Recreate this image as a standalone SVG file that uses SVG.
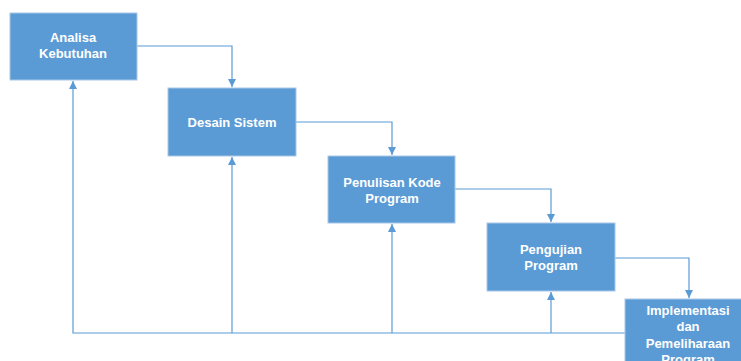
<svg xmlns="http://www.w3.org/2000/svg" width="741" height="361" viewBox="0 0 741 361">
<style>
.box{fill:#5B9BD5;stroke:#A9C8E8;stroke-width:1}
.t{font-family:"Liberation Sans",Arial,sans-serif;font-weight:bold;font-size:13px;fill:#fff;text-anchor:middle}
.c{fill:none;stroke:#5B9BD5;stroke-width:1.2}
</style>
<defs>
<marker id="a" markerWidth="10" markerHeight="10" refX="8" refY="5" orient="auto" markerUnits="userSpaceOnUse">
<path d="M0,1 L8,5 L0,9 z" fill="#5B9BD5"/>
</marker>
</defs>
<rect width="741" height="361" fill="#fff"/>
<g id="connectors">
<path class="c" d="M137,46 H232 V87" marker-end="url(#a)"/>
<path class="c" d="M296,122 H392 V155" marker-end="url(#a)"/>
<path class="c" d="M455,189 H551 V222" marker-end="url(#a)"/>
<path class="c" d="M615,258 H689 V298" marker-end="url(#a)"/>
<path class="c" d="M625,333 H73 V81" marker-end="url(#a)"/>
<path class="c" d="M232,333 V157" marker-end="url(#a)"/>
<path class="c" d="M392,333 V224" marker-end="url(#a)"/>
<path class="c" d="M551,333 V292" marker-end="url(#a)"/>
</g>
<g id="n1">
<rect class="box" x="10" y="13" width="127" height="67"/>
<text class="t" x="73" y="42">Analisa</text>
<text class="t" x="73" y="58">Kebutuhan</text>
</g>
<g id="n2">
<rect class="box" x="168" y="88" width="128" height="68"/>
<text class="t" x="232" y="127">Desain Sistem</text>
</g>
<g id="n3">
<rect class="box" x="328" y="156" width="127" height="67"/>
<text class="t" x="392" y="187">Penulisan Kode</text>
<text class="t" x="392" y="203">Program</text>
</g>
<g id="n4">
<rect class="box" x="487" y="223" width="128" height="68"/>
<text class="t" x="551" y="254">Pengujian</text>
<text class="t" x="551" y="270">Program</text>
</g>
<g id="n5">
<rect class="box" x="625" y="299" width="125" height="70"/>
<text class="t" x="688" y="315">Implementasi</text>
<text class="t" x="688" y="331">dan</text>
<text class="t" x="688" y="348">Pemeliharaan</text>
<text class="t" x="688" y="364">Program</text>
</g>
</svg>
